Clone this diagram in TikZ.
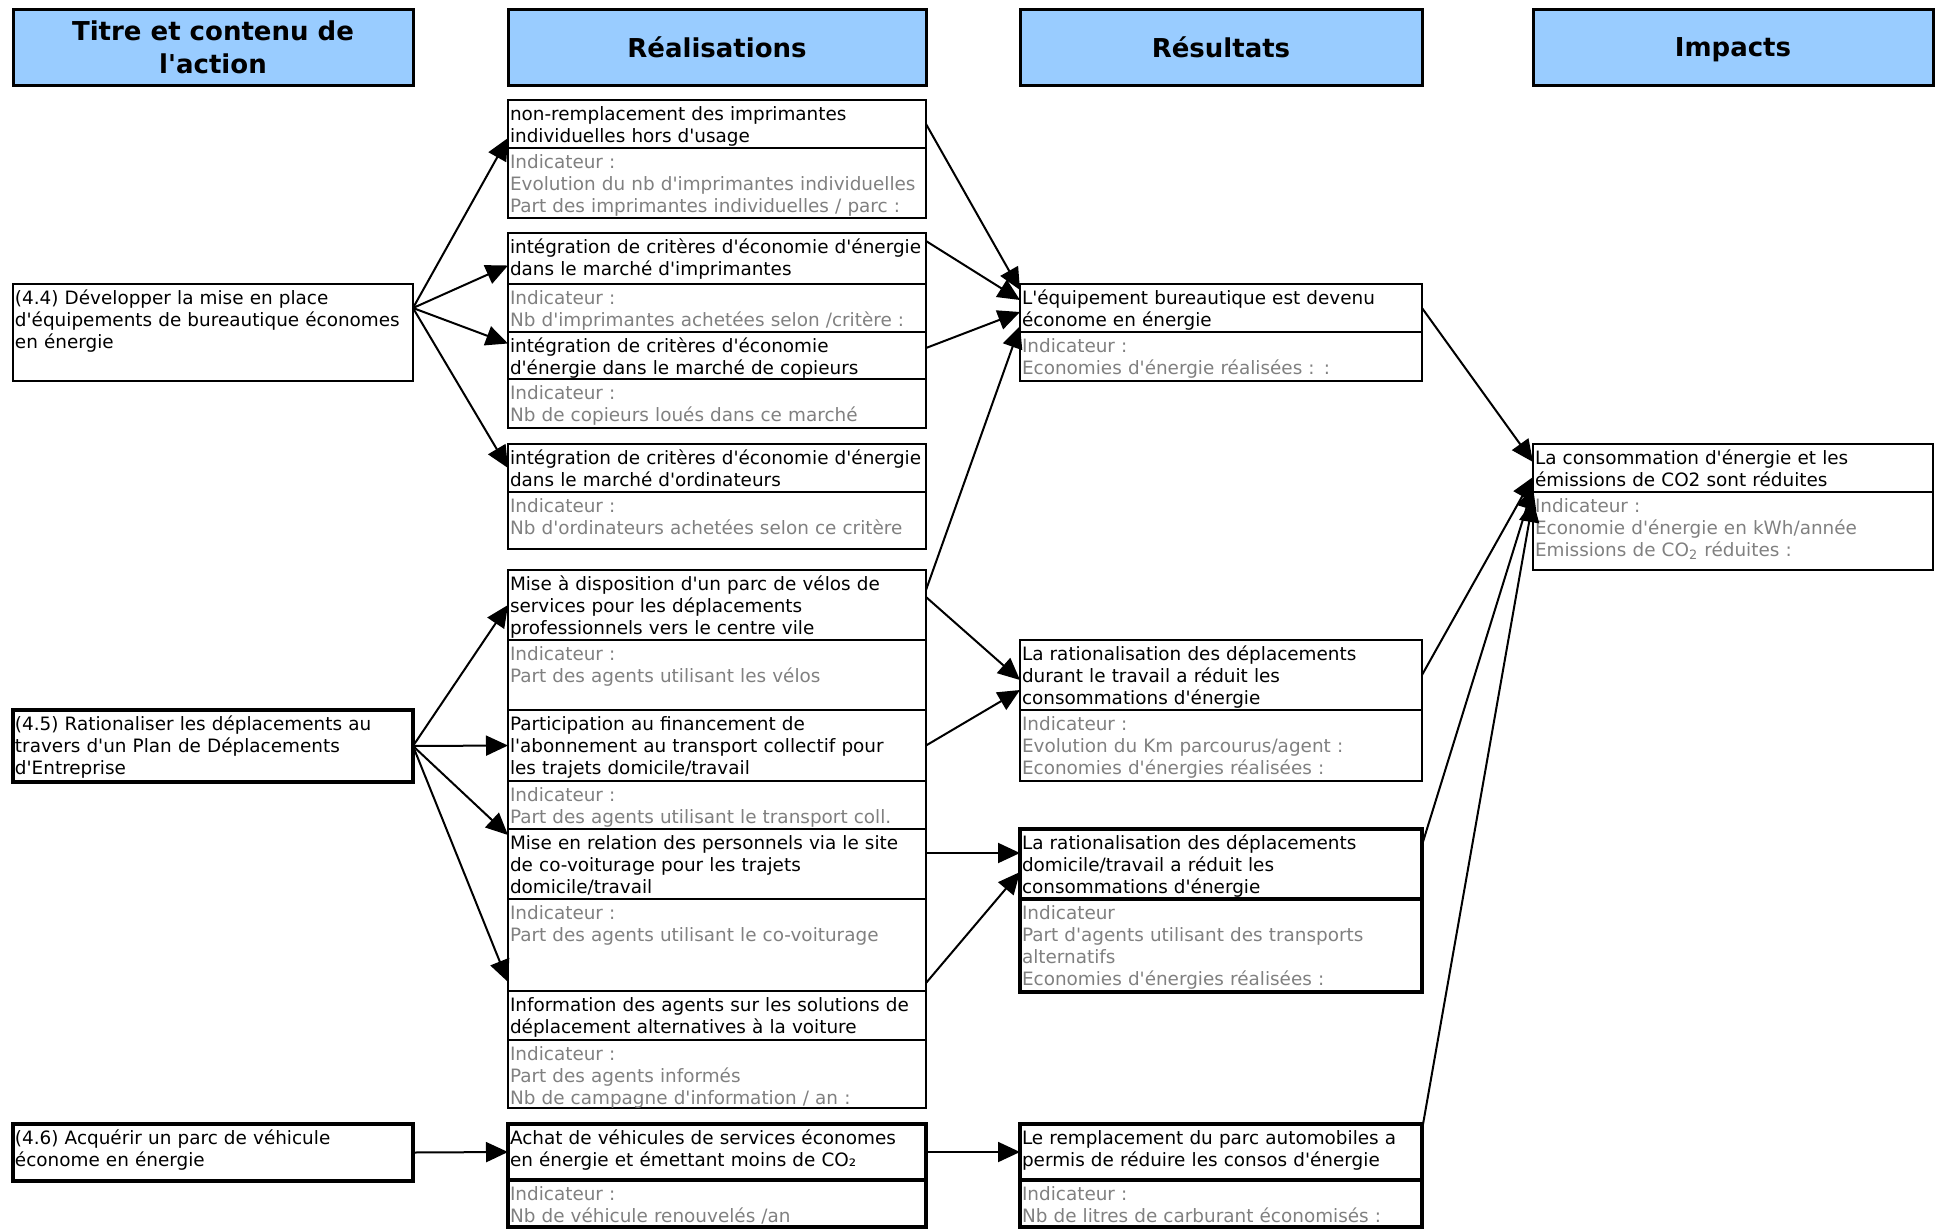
\documentclass[tikz,border=0pt]{standalone}
\usepackage{fontspec}
\newfontfamily\police{DejaVu Sans}
\usetikzlibrary{positioning,arrows.meta}
\definecolor{bleuentete}{RGB}{153,204,255}
\definecolor{grisind}{RGB}{128,128,128}

\begin{document}
\begin{tikzpicture}[x=0.5pt,y=-0.5pt,
  entete/.style={draw, line width=1.5pt, fill=bleuentete, anchor=north west, outer sep=0pt,
    minimum height=38pt, align=center, font=\police\bfseries\fontsize{13}{16.5}\selectfont},
  boite/.style={draw, line width=1.1pt, anchor=north west, outer sep=0pt, inner xsep=1pt,
    inner ysep=1pt, text height=9pt, align=left, font=\police\fontsize{9.2}{11}\selectfont},
  colA/.style={boite, text width=198pt},
  colR/.style={boite, text width=207pt},
  colS/.style={boite, text width=199pt},
  colI/.style={boite, text width=198pt},
  epais/.style={line width=1.6pt},
  ind/.style={text=grisind, below=0pt of #1},
  fleche/.style={-{Triangle[length=11pt,width=10pt]}, line width=1pt}]
			\useasboundingbox (0,0) rectangle (1935,1228);

			% en-tetes
			\node[entete, minimum width=200pt] (t1) at (13,9) {Titre et contenu de\\l'action};
			\node[entete, minimum width=209pt] (t2) at (508,9) {Réalisations};
			\node[entete, minimum width=201pt] (t3) at (1020,9) {Résultats};
			\node[entete, minimum width=200pt, text depth=0pt] (t4) at (1533,9) {Impacts};

			% actions
			\node[colA, text depth=37.5pt] (a1) at (13,284) {(4.4) Développer la mise en place\\d'équipements de bureautique économes\\en énergie};
			\node[colA, epais, text depth=25pt] (a2) at (13,710) {(4.5) Rationaliser les déplacements au\\travers d'un Plan de Déplacements\\d'Entreprise};
			\node[colA, epais, text depth=17.5pt] (a3) at (13,1124) {(4.6) Acquérir un parc de véhicule\\économe en énergie};

			% realisations
			\node[colR, text depth=13pt] (r1) at (508,100) {non-remplacement des imprimantes\\individuelles hors d'usage};
			\node[colR, ind=r1, text depth=24pt] (r1i) {Indicateur :\\Evolution du nb d'imprimantes individuelles\\Part des imprimantes individuelles / parc :};
			\node[colR, text depth=14.5pt] (r2) at (508,233) {intégration de critères d'économie d'énergie\\dans le marché d'imprimantes};
			\node[colR, ind=r2, text depth=13pt] (r2i) {Indicateur :\\Nb d'imprimantes achetées selon /critère :};
			\node[colR, text depth=12.5pt] (r3) at (508,332) {intégration de critères d'économie\\d'énergie dans le marché de copieurs};
			\node[colR, ind=r3, text depth=13.5pt] (r3i) {Indicateur :\\Nb de copieurs loués dans ce marché};
			\node[colR, text depth=13pt] (r4) at (508,444) {intégration de critères d'économie d'énergie\\dans le marché d'ordinateurs};
			\node[colR, ind=r4, text depth=17.5pt] (r4i) {Indicateur :\\Nb d'ordinateurs achetées selon ce critère};
			\node[colR, text depth=24pt] (r5) at (508,570) {Mise à disposition d'un parc de vélos de\\services pour les déplacements\\professionnels vers le centre vile};
			\node[colR, ind=r5, text depth=24pt] (r5i) {Indicateur :\\Part des agents utilisant les vélos};
			\node[colR, text depth=24.5pt] (r6) at (508,710) {Participation au financement de\\l'abonnement au transport collectif pour\\les trajets domicile/travail};
			\node[colR, ind=r6, text depth=13pt] (r6i) {Indicateur :\\Part des agents utilisant le transport coll.};
			\node[colR, text depth=24pt] (r7) at (508,829) {Mise en relation des personnels via le site\\de co-voiturage pour les trajets\\domicile/travail};
			\node[colR, ind=r7, text depth=35pt] (r7i) {Indicateur :\\Part des agents utilisant le co-voiturage};
			\node[colR, text depth=13.5pt] (r8) at (508,991) {Information des agents sur les solutions de\\déplacement alternatives à la voiture};
			\node[colR, ind=r8, text depth=23pt] (r8i) {Indicateur :\\Part des agents informés\\Nb de campagne d'information / an :};
			\node[colR, epais, text depth=17pt] (r9) at (508,1124) {Achat de véhicules de services économes\\en énergie et émettant moins de CO₂};
			\node[colR, epais, ind=r9, text depth=12.5pt] (r9i) {Indicateur :\\Nb de véhicule renouvelés /an};

			% resultats
			\node[colS, text depth=13pt] (s1) at (1020,284) {L'équipement bureautique est devenu\\économe en énergie};
			\node[colS, ind=s1, text depth=13.5pt] (s1i) {Indicateur :\\Economies d'énergie réalisées : :};
			\node[colS, text depth=24pt] (s2) at (1020,640) {La rationalisation des déplacements\\durant le travail a réduit les\\consommations d'énergie};
			\node[colS, ind=s2, text depth=24.5pt] (s2i) {Indicateur :\\Evolution du Km parcourus/agent :\\Economies d'énergies réalisées :};
			\node[colS, epais, text depth=24pt] (s3) at (1020,829) {La rationalisation des déplacements\\domicile/travail a réduit les\\consommations d'énergie};
			\node[colS, epais, ind=s3, text depth=35.5pt] (s3i) {Indicateur\\Part d'agents utilisant des transports\\alternatifs\\Economies d'énergies réalisées :};
			\node[colS, epais, text depth=17pt] (s4) at (1020,1124) {Le remplacement du parc automobiles a\\permis de réduire les consos d'énergie};
			\node[colS, epais, ind=s4, text depth=12.5pt] (s4i) {Indicateur :\\Nb de litres de carburant économisés :};

			% impact
			\node[colI, text depth=13pt] (i1) at (1533,444) {La consommation d'énergie et les\\émissions de CO2 sont réduites};
			\node[colI, ind=i1, text depth=28pt] (i1i) {Indicateur :\\Economie d'énergie en kWh/année\\Emissions de CO\textsubscript{2} réduites :};

			% actions -> realisations
			\draw[fleche] ([yshift=-12pt]a1.north east) -- ([yshift=5pt]r1.south west);
			\draw[fleche] ([yshift=-12pt]a1.north east) -- ([yshift=-3.5pt]r2.west);
			\draw[fleche] ([yshift=-12pt]a1.north east) -- ([yshift=6pt]r3.west);
			\draw[fleche] ([yshift=-12pt]a1.north east) -- (r4.west);
			\draw[fleche] (a2.east) -- (r5.west);
			\draw[fleche] (a2.east) -- (r6.west);
			\draw[fleche] (a2.east) -- ([yshift=-3pt]r7.north west);
			\draw[fleche] (a2.east) -- ([yshift=4.5pt]r8.north west);
			\draw[fleche] (a3.east) -- (r9.west);

			% realisations -> resultats
			\draw[fleche] (r1.east) -- ([yshift=-3pt]s1.north west);
			\draw[fleche] ([yshift=-4pt]r2.north east) -- ([yshift=-8pt]s1.north west);
			\draw[fleche] ([yshift=-8pt]r3.north east) -- ([yshift=-2pt]s1.west);
			\draw[fleche] ([yshift=-10pt]r5.north east) -- ([yshift=-9pt]s1.west);
			\draw[fleche] ([yshift=-13.5pt]r5.north east) -- ([yshift=-2.5pt]s2.west);
			\draw[fleche] (r6.east) -- ([yshift=-7.5pt]s2.west);
			\draw[fleche] ([yshift=-12pt]r7.north east) -- ([yshift=-12pt]s3.north west);
			\draw[fleche] ([yshift=4pt]r8.north east) -- ([yshift=-21.5pt]s3.north west);
			\draw[fleche] (r9.east) -- (s4.west);

			% resultats -> impact
			\draw[fleche] (s1.east) -- ([yshift=-9pt]i1.north west);
			\draw[fleche] (s2.east) -- ([yshift=-16.5pt]i1.north west);
			\draw[fleche] ([yshift=-8pt]s3.north east) -- ([yshift=-21.5pt]i1.north west);
			\draw[fleche] ([yshift=-3pt]s4.north east) -- ([yshift=-28pt]i1.north west);
\end{tikzpicture}
\end{document}
